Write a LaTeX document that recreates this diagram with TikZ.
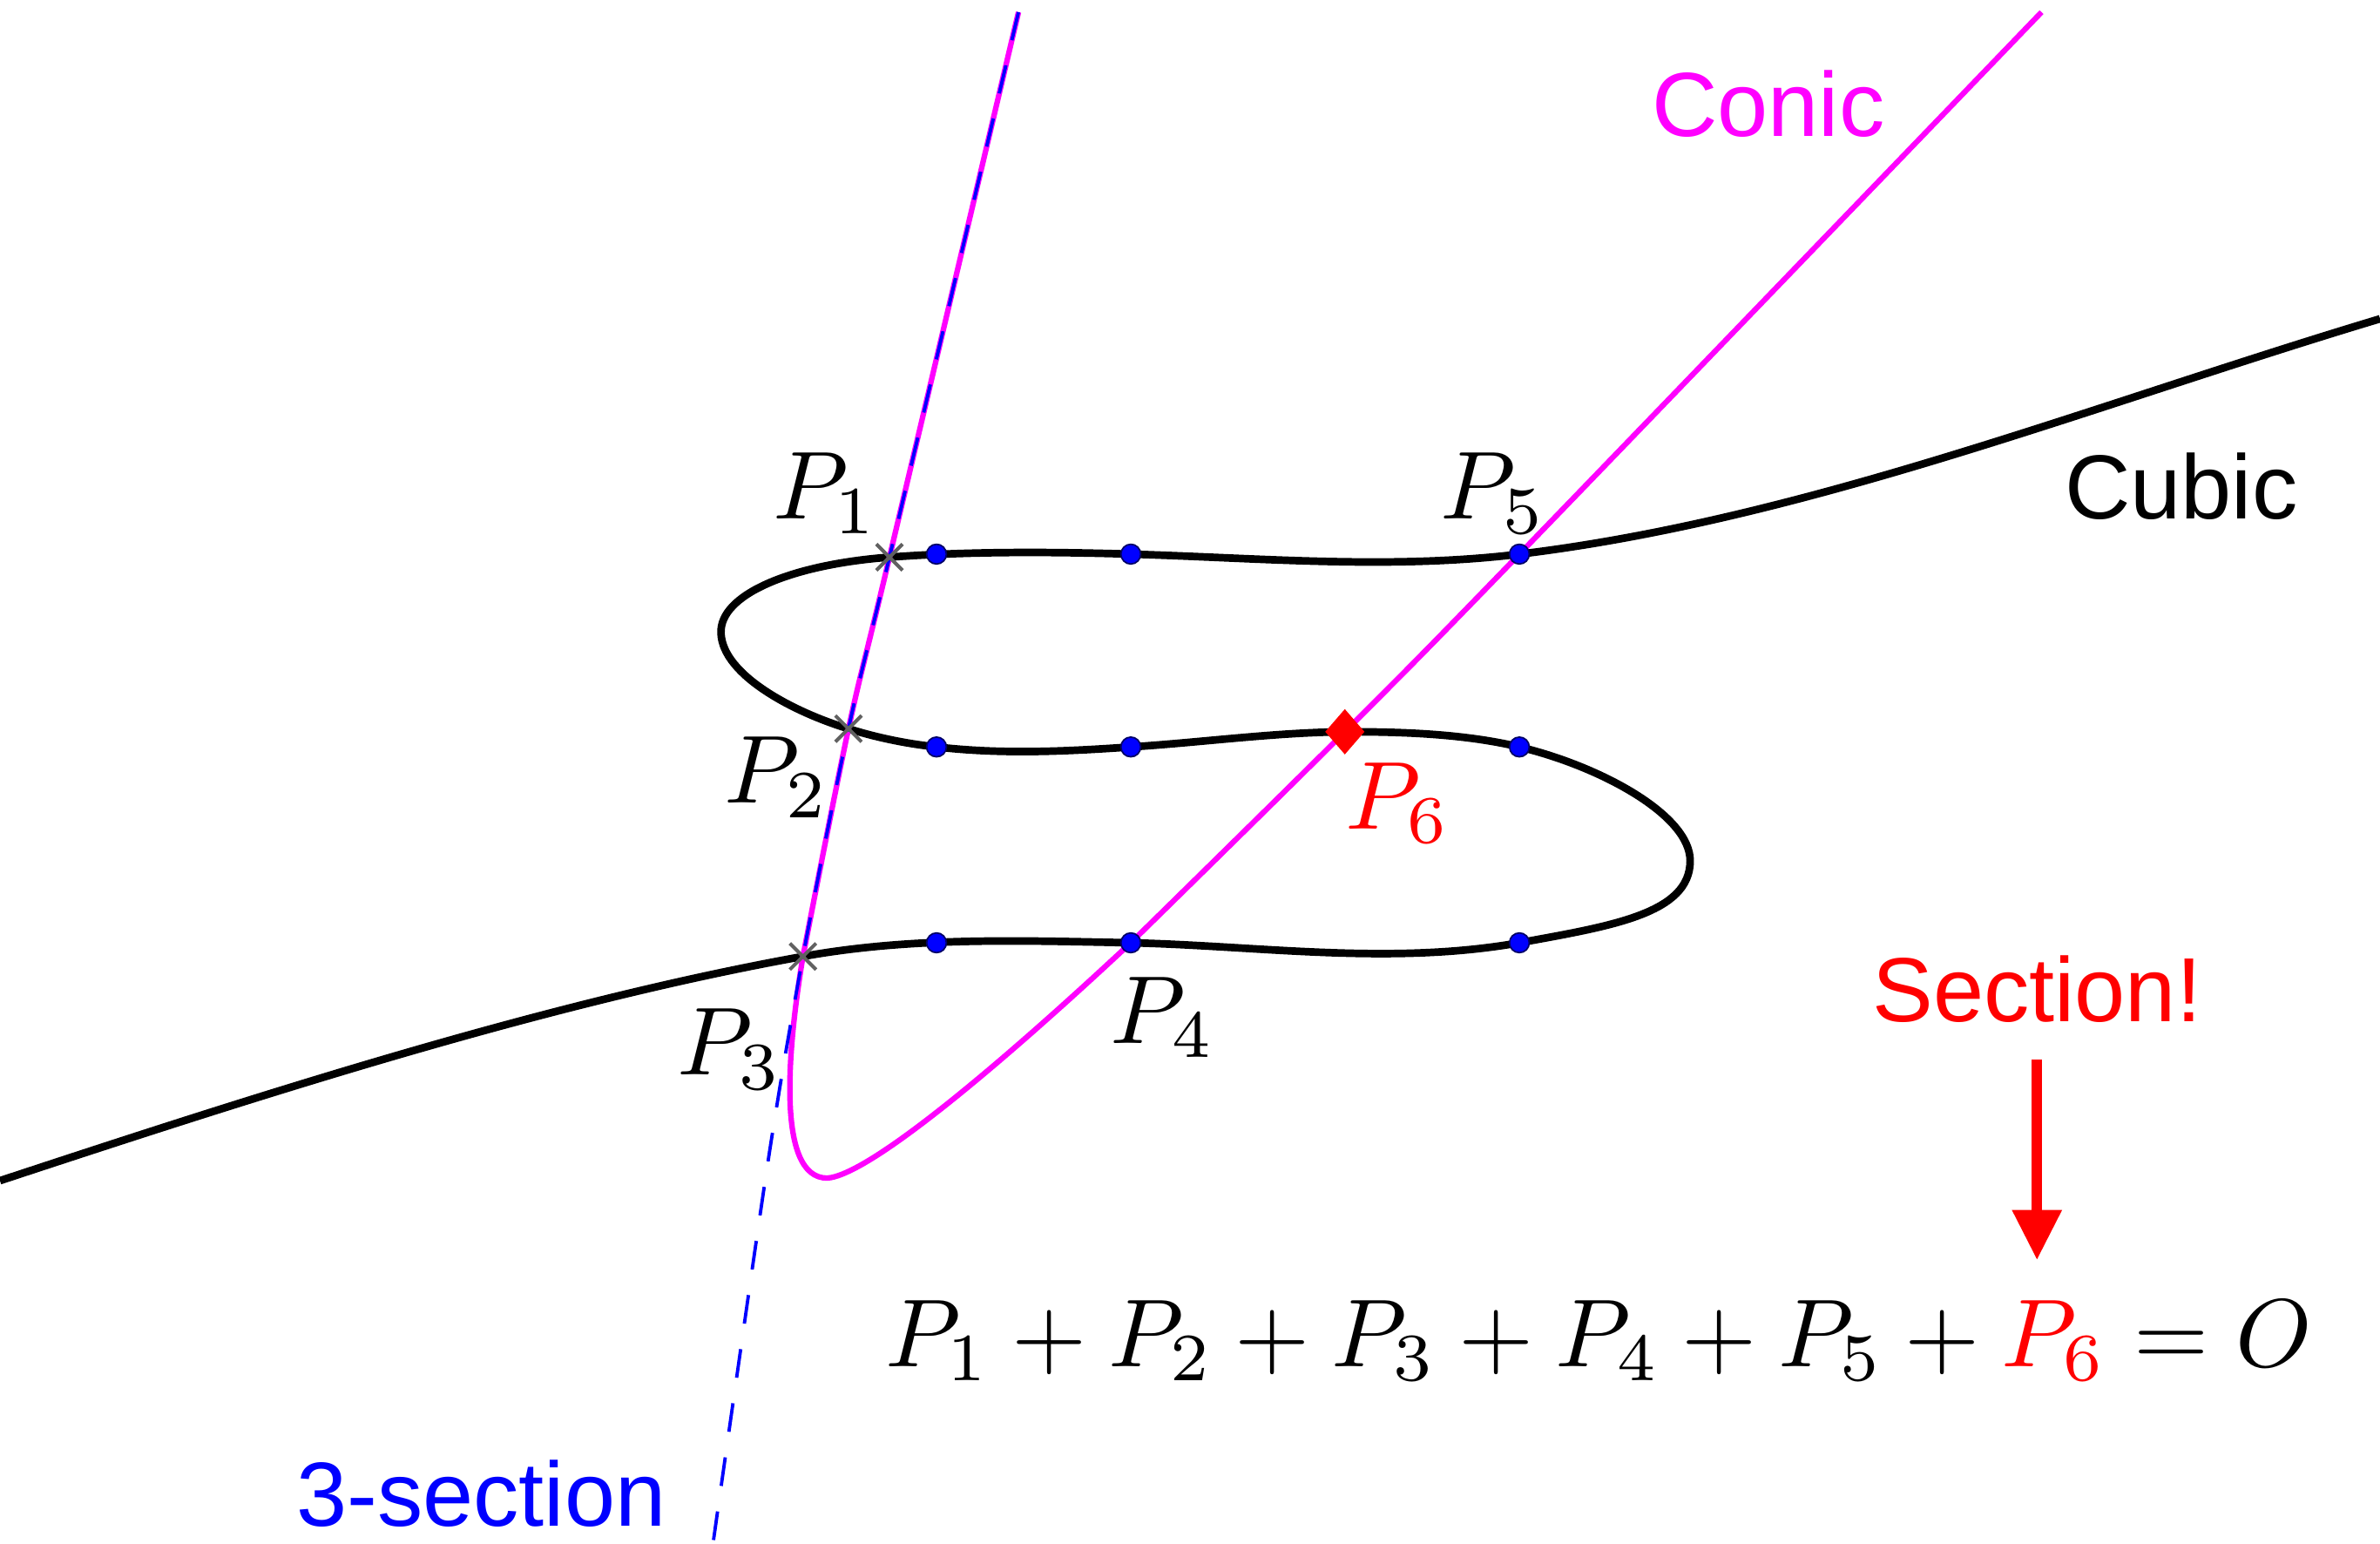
\documentclass[tikz,border=0pt]{standalone}
\usepackage{graphicx}
\usepackage{fontspec}
\newfontfamily\labelfont{Liberation Sans}
\usetikzlibrary{arrows.meta,shapes.geometric,shapes.misc}
\definecolor{mag}{RGB}{255,0,255}
\definecolor{pblue}{RGB}{0,0,255}
\definecolor{pred}{RGB}{255,0,0}
\newcommand{\mylargemath}[1]{\scalebox{6.36}{$#1$}}
\begin{document}
\begin{tikzpicture}[x=1pt,y=-1pt,
  cubicline/.style={line width=5pt, black, line join=round},
  conicline/.style={line width=3.6pt, mag, line join=round},
  secline/.style={pblue, line width=2.2pt, dash pattern=on 19pt off 17pt},
  dotpt/.style={circle, fill=pblue, draw=black!60!blue, line width=1pt, inner sep=0pt, minimum size=13pt},
  crosspt/.style={cross out, draw=black!62, line width=2.3pt, minimum size=15pt, inner sep=0pt},
  pmark/.style={diamond, fill=pred, inner sep=0pt, minimum width=26pt, minimum height=30pt},
  mathlbl/.style={inner sep=0pt, anchor=base west},
  txt/.style={font=\labelfont\fontsize{60}{72}\selectfont, inner sep=0pt, anchor=base}
]
\fill[white] (0,0) rectangle (1568,1017);
\useasboundingbox (0,0) rectangle (1568,1017);

% named points
\coordinate (P1) at (586,367);
\coordinate (P2) at (559,480);
\coordinate (P3) at (529,630);
\coordinate (P4) at (745,621);
\coordinate (P5) at (1001,365);
\coordinate (P6) at (886,482);
\coordinate (ctop) at (671,8);
\coordinate (rtop) at (1345,8);
\coordinate (sbot) at (470,1015);
\coordinate (cleft) at (0,777.7);
\coordinate (cright) at (1568,210);

% cubic
\draw[cubicline] (cleft)
  .. controls (170,721.6) and (359,660.6) .. (P3)
  .. controls (601,617) and (673,619.6) .. (P4)
  .. controls (830,623) and (916,636) .. (1001,621)
  .. controls (1061,610) and (1113.5,602) .. (1113.5,567)
  .. controls (1113.5,537) and (1055,505) .. (1001,492)
  .. controls (963,483) and (921,482) .. (P6)
  .. controls (839,482.5) and (792,489) .. (745,492)
  .. controls (702,495) and (660,497) .. (617,492)
  .. controls (598,490) and (578,486) .. (P2)
  .. controls (524,469.5) and (476,445) .. (475,417)
  .. controls (474,392) and (520,372) .. (P1)
  .. controls (640,363) and (695,363.5) .. (745,365)
  .. controls (830,367.5) and (916,375.3) .. (P5)
  .. controls (1191,342) and (1378,267) .. (cright);

% conic
\draw[conicline] plot[smooth, tension=0.55] coordinates {(ctop) (P1) (P2) (P3)}
  .. controls (519,690) and (511,776) .. (545,776)
  .. controls (572,774) and (655,705) .. (P4);
\draw[conicline] plot[smooth, tension=0.55] coordinates {(P4) (P6) (P5) (rtop)};

% 3-section
\draw[secline] plot[smooth] coordinates {(ctop) (P1) (P2) (P3) (506,765) (sbot)};

% marks
\node[dotpt] (d1) at (617,365) {};
\node[dotpt] (d2) at (745,365) {};
\node[dotpt] (d5) at (P5) {};
\node[dotpt] (d3) at (617,492) {};
\node[dotpt] (d4) at (745,492) {};
\node[dotpt] (d6) at (1001,492) {};
\node[dotpt] (d7) at (617,621) {};
\node[dotpt] (d8) at (P4) {};
\node[dotpt] (d9) at (1001,621) {};
\node[crosspt] (x1) at (P1) {};
\node[crosspt] (x2) at (P2) {};
\node[crosspt] (x3) at (P3) {};
\node[pmark] (m6) at (P6) {};

% point labels
\node[mathlbl] (l1) at (509,342) {\mylargemath{P_1}};
\node[mathlbl] (l5) at (949,342) {\mylargemath{P_5}};
\node[mathlbl] (l2) at (477,529) {\mylargemath{P_2}};
\node[mathlbl, text=pred] (l6) at (886,546) {\mylargemath{P_6}};
\node[mathlbl] (l3) at (446,708) {\mylargemath{P_3}};
\node[mathlbl] (l4) at (731,687) {\mylargemath{P_4}};

% texts
\node[txt, text=mag] (conic) at (1165,90) {Conic};
\node[txt] (cubic) at (1437,342) {Cubic};
\node[txt, text=pred] (sect) at (1342,673) {Section!};
\node[txt, text=pblue] (three) at (317,1005) {3-section};

% equation
\node[mathlbl] (eq) at (583,900) {\mylargemath{P_1+P_2+P_3+P_4+P_5+{\color{pred}P_6}=O}};

% arrow
\coordinate (atop) at (1342,698);
\coordinate (abot) at (1342,830);
\draw[pred, line width=7pt, -{Triangle[length=33pt,width=31pt]}] (atop) -- (abot);
\end{tikzpicture}
\end{document}
